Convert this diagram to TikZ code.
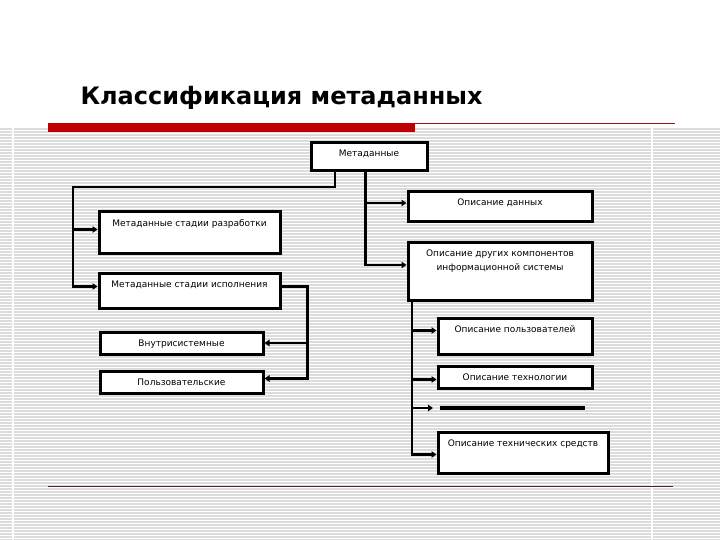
\documentclass[tikz,border=0pt]{standalone}
\usepackage{fontspec}
\setmainfont{DejaVu Sans}
\usepackage{tikz}
\usetikzlibrary{arrows.meta, positioning, calc}
\definecolor{barRed}{RGB}{192,0,0}
\definecolor{lineRed}{RGB}{150,20,20}
\definecolor{footBrown}{RGB}{90,30,30}
\definecolor{stripeGray}{RGB}{220,220,220}

\begin{document}
\begin{tikzpicture}[
  x=1pt, y=-1pt,
  box/.style={rectangle, draw=black, line width=3pt, fill=white, anchor=north west, inner xsep=2pt, inner ysep=0pt, text height=14pt, align=center, font=\fontsize{9}{14}\selectfont},
  arrow/.style={line width=2.8pt, -{Triangle[length=5pt,width=6.5pt]}},
  stripe/.style={stripeGray, line width=1.2pt}
]
\useasboundingbox (0,0) rectangle (720,540);
\fill[white] (0,0) rectangle (720,540);

% Background
\foreach \y in {129,132,...,540} \draw[stripe] (0,\y) -- (720,\y);
\draw[white, line width=1.5pt] (13,128) -- (13,540);
\draw[white, line width=1.5pt] (652,128) -- (652,540);
\fill[barRed] (48,123) rectangle (415,132);
\draw[lineRed, line width=1pt] (415,123.5) -- (675,123.5);
\draw[footBrown, line width=1pt] (48,486) -- (673,486);

% Title
\node (title) [anchor=base west, font=\fontsize{24}{24}\selectfont\bfseries] at (77,105) {Классификация метаданных};

% Nodes
\node (meta) [box, minimum width=116pt, text depth=14pt] at (309.5,141.5) {Метаданные};
\node (opdan) [box, minimum width=184pt, text depth=16pt] at (406.5,190.5) {Описание данных};
\node (opdrug) [box, minimum width=184pt, text height=28pt, text depth=30pt] at (406.5,240.5) {Описание других компонентов\\информационной системы};
\node (razrab) [box, minimum width=181pt, text depth=27pt] at (97.5,210.5) {Метаданные стадии разработки};
\node (ispol) [box, minimum width=181pt, text depth=21pt] at (97.5,271.5) {Метаданные стадии исполнения};
\node (vnutr) [box, minimum width=163pt, text depth=8pt] at (98.5,330.5) {Внутрисистемные};
\node (polz) [box, minimum width=163pt, text depth=8pt] at (98.5,369.5) {Пользовательские};
\node (oppolz) [box, minimum width=154pt, text depth=22pt] at (436.5,316.5) {Описание пользователей};
\node (optech) [box, minimum width=154pt, text depth=8pt] at (436.5,364.5) {Описание технологии};
\node (optsr) [box, minimum width=170pt, text depth=27pt] at (436.5,430.5) {Описание технических средств};
\coordinate (blank) at (440,408);
\draw [line width=3.2pt] (blank) -- ++(145,0);

% Bus points
\coordinate (lbus) at (73,187);
\coordinate (rbus) at ([xshift=-3.5pt]meta.south);
\coordinate (razin) at ([yshift=3pt]razrab.west);
\coordinate (ispin) at ([yshift=4pt]ispol.west);
\coordinate (datin) at ([yshift=4pt]opdan.west);
\coordinate (drugin) at ([yshift=6pt]opdrug.west);
\coordinate (ispout) at ([yshift=4pt]ispol.east);
\coordinate (ibus) at ($(ispout)+(26,0)$);
\coordinate (polzin) at ([yshift=3.5pt]polz.east);
\coordinate (dbus) at ([xshift=5.5pt]opdrug.south west);
\coordinate (userin) at ([yshift=5.5pt]oppolz.west);
\coordinate (techin) at ([yshift=-2.5pt]optech.west);
\coordinate (tsrin) at ([yshift=-2pt]optsr.west);

% Arrows
\draw [arrow] ([xshift=-34pt]meta.south) |- (lbus) |- (ispin);
\draw [arrow] (lbus |- razin) -- (razin);
\draw [arrow] (rbus) |- (drugin);
\draw [arrow] (rbus |- datin) -- (datin);
\draw [arrow] (ispout) -- (ibus) |- (polzin);
\draw [arrow] (ibus |- vnutr.east) -- (vnutr.east);
\draw [arrow] (dbus) |- (tsrin);
\draw [arrow] (dbus |- userin) -- (userin);
\draw [arrow] (dbus |- techin) -- (techin);
\draw [arrow] (dbus |- blank) -- ([xshift=-7pt]blank);

\end{tikzpicture}
\end{document}
